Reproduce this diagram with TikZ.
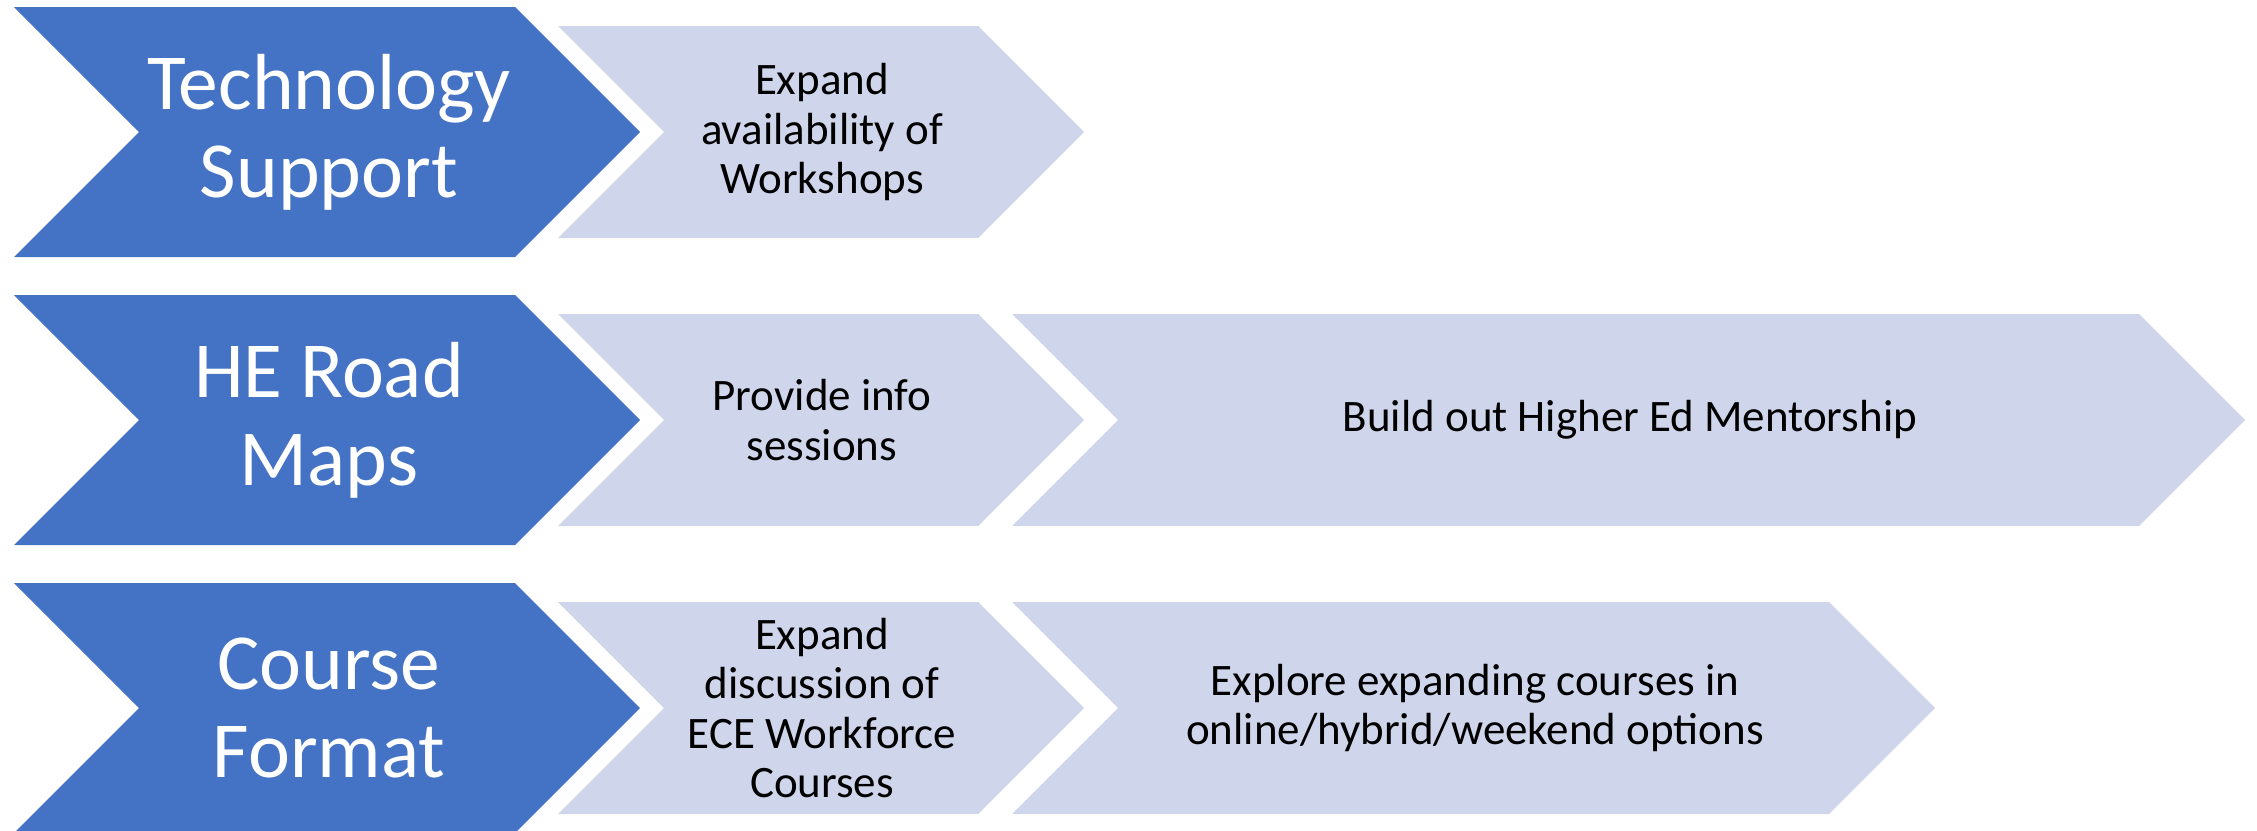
\documentclass[tikz,border=0pt]{standalone}
\usepackage{fontspec}
\setmainfont{Carlito}
\definecolor{darkblue}{HTML}{4472C4}
\definecolor{lightblue}{HTML}{CFD5EA}
\newcommand{\chevshape}[6]{% #1 fill, #2 left x, #3 tip x, #4 centre y, #5 half height, #6 name
  \fill[#1] ({#2},{#4-#5}) -- ({#3-#5},{#4-#5}) -- ({#3},{#4}) -- ({#3-#5},{#4+#5}) -- ({#2},{#4+#5}) -- ({#2+#5},{#4}) -- cycle;
  \coordinate (#6) at ({(#2+#3)/2},{#4});}
\tikzset{
  headtext/.style={text=white, align=center, inner sep=0pt, font=\fontsize{79.5}{88}\selectfont},
  steptext/.style={text=black, align=center, inner sep=0pt, font=\fontsize{45}{49.5}\selectfont},
}
\begin{document}
\begin{tikzpicture}[x=1pt,y=-1pt]
\useasboundingbox (0,0) rectangle (2257,830);
% row 1
\chevshape{darkblue}{14}{640}{132}{125}{c11}
\chevshape{lightblue}{558}{1084}{132}{106}{c12}
\node[headtext] (h1) at (329,132) {Technology\\Support};
\node[steptext] (s11) at (822,132) {Expand\\availability of\\Workshops};
% row 2
\chevshape{darkblue}{14}{640}{420}{125}{c21}
\chevshape{lightblue}{558}{1084}{420}{106}{c22}
\chevshape{lightblue}{1012}{2245}{420}{106}{c23}
\node[headtext] (h2) at (329,420) {HE Road\\Maps};
\node[steptext] (s21) at (822,420) {Provide info\\sessions};
\node[steptext] (s22) at (1630,420) {Build out Higher Ed Mentorship};
% row 3
\chevshape{darkblue}{14}{640}{708}{125}{c31}
\chevshape{lightblue}{558}{1084}{708}{106}{c32}
\chevshape{lightblue}{1012}{1935}{708}{106}{c33}
\node[headtext] (h3) at (329,708) {Course\\Format};
\node[steptext] (s31) at (822,708) {Expand\\discussion of\\ECE Workforce\\Courses};
\node[steptext] (s32) at (1475,708) {Explore expanding courses in\\online/hybrid/weekend options};
\end{tikzpicture}
\end{document}
